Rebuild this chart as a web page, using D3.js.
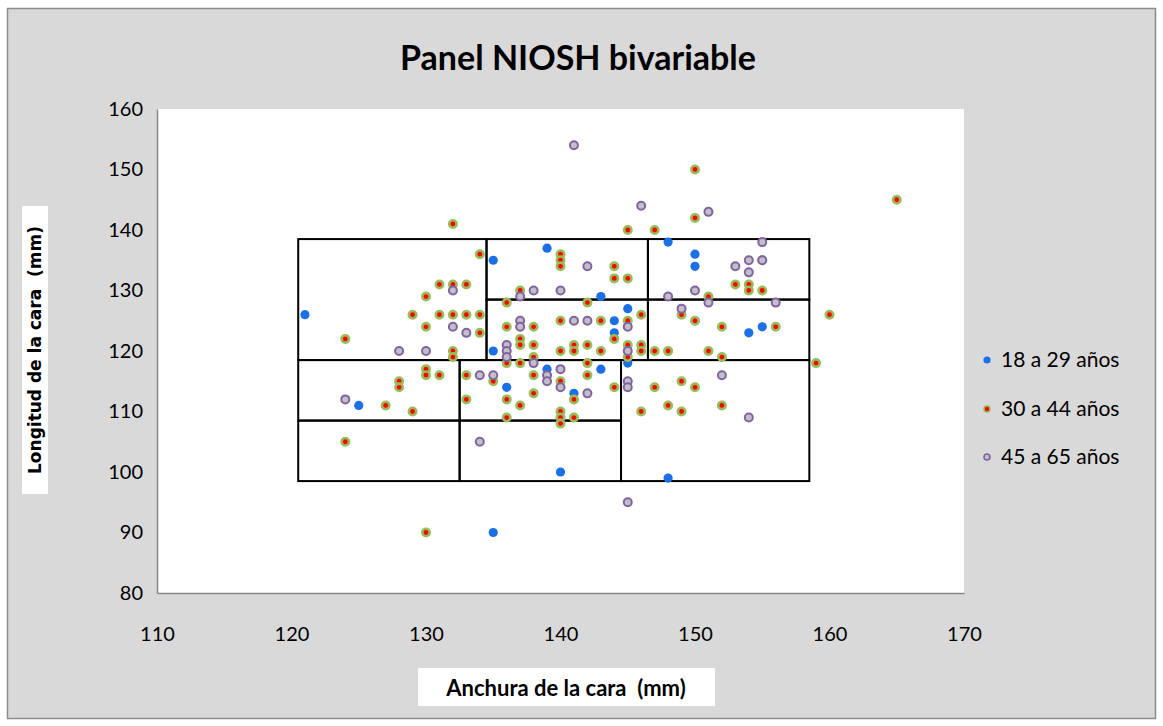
<!DOCTYPE html>
<html>
<head>
<meta charset="utf-8">
<script src="https://cdn.jsdelivr.net/npm/d3@7"></script>
<style>
  html, body { margin: 0; padding: 0; background: #ffffff; }
  svg { display: block; }
</style>
</head>
<body>
<svg id="chart" width="1163" height="726"></svg>
<script>
// Face width (x, mm) and face length (y, mm) per age group
const ageGroups = ["18 a 29 años", "30 a 44 años", "45 a 65 años"];

const grupo18a29 = [
  [121,126],[125,111],[135,135],[135,120],[135,90],[136,114],[139,137],[139,117],
  [140,100],[141,113],[143,129],[143,117],[144,125],[144,123],[145,127],[145,118],
  [148,138],[148,120],[148,99],[150,136],[150,134],[150,125],[154,123],[155,124]
];

const grupo30a44 = [
  [124,122],[124,105],[127,111],[128,115],[128,114],[129,126],[129,110],[130,129],
  [130,124],[130,117],[130,116],[130,90],[131,131],[131,126],[131,116],[132,141],
  [132,131],[132,126],[132,120],[132,119],[133,131],[133,126],[133,116],[133,112],
  [134,136],[134,126],[134,123],[135,115],[136,128],[136,124],[136,118],[136,112],
  [136,109],[137,130],[137,122],[137,121],[137,118],[137,111],[138,124],[138,121],
  [138,119],[138,116],[138,113],[140,136],[140,135],[140,134],[140,125],[140,120],
  [140,115],[140,110],[140,109],[140,108],[141,121],[141,120],[141,112],[141,109],
  [142,128],[142,121],[142,118],[142,116],[143,125],[143,120],[144,134],[144,132],
  [144,122],[144,114],[145,140],[145,132],[145,125],[145,121],[145,119],[146,126],
  [146,121],[146,120],[146,110],[147,140],[147,120],[147,114],[148,120],[148,111],
  [149,126],[149,115],[149,110],[150,150],[150,142],[150,125],[150,114],[151,129],
  [151,120],[152,124],[152,119],[152,111],[153,131],[154,131],[154,130],[155,135],
  [155,130],[156,124],[159,118],[160,126],[165,145]
];

const grupo45a65 = [
  [124,112],[128,120],[130,120],[132,130],[132,124],[133,123],[134,116],[134,105],
  [135,116],[136,121],[136,120],[136,119],[137,129],[137,125],[137,124],[138,130],
  [138,118],[139,116],[139,115],[140,130],[140,117],[140,114],[141,154],[141,125],
  [142,134],[142,125],[142,113],[145,124],[145,120],[145,115],[145,114],[145,95],
  [146,144],[148,129],[149,127],[150,130],[151,143],[151,128],[152,116],[153,134],
  [154,135],[154,133],[154,109],[155,138],[155,135],[156,128]
];

// NIOSH bivariate panel cells: [width min, width max, length min, length max]
const panelCells = [
  [120.5,132.5, 98.5,108.5],
  [132.5,144.5, 98.5,108.5],
  [120.5,132.5,108.5,118.5],
  [132.5,144.5,108.5,118.5],
  [144.5,158.5, 98.5,118.5],
  [120.5,134.5,118.5,138.5],
  [134.5,146.5,118.5,128.5],
  [146.5,158.5,118.5,128.5],
  [134.5,146.5,128.5,138.5],
  [146.5,158.5,128.5,138.5]
];

const xTicks = [110,120,130,140,150,160,170];
const yTicks = [80,90,100,110,120,130,140,150,160];

const svg = d3.select("#chart");
const W = 1163, H = 726;
const plot = { left: 157, top: 109, right: 964, bottom: 593 };

const baseFont = "Lato, 'Open Sans', sans-serif";

// Chart background and frame
svg.append("rect").attr("x", 0).attr("y", 0).attr("width", W).attr("height", H).attr("fill", "#ffffff");
svg.append("rect")
  .attr("x", 7.5).attr("y", 8.5).attr("width", 1148).attr("height", 710)
  .attr("fill", "#d9d9d9").attr("stroke", "#8c8c8c").attr("stroke-width", 1.5);

// Plot area
svg.append("rect")
  .attr("x", plot.left).attr("y", plot.top)
  .attr("width", plot.right - plot.left).attr("height", plot.bottom - plot.top)
  .attr("fill", "#ffffff");

const x = d3.scaleLinear().domain([110, 170]).range([plot.left, plot.right]);
const y = d3.scaleLinear().domain([80, 160]).range([plot.bottom, plot.top]);

// Axes
const xAxis = svg.append("g")
  .attr("transform", `translate(0,${plot.bottom})`)
  .call(d3.axisBottom(x).tickValues(xTicks).tickSize(0).tickPadding(34).tickFormat(d3.format("d")));
const yAxis = svg.append("g")
  .attr("transform", `translate(${plot.left},0)`)
  .call(d3.axisLeft(y).tickValues(yTicks).tickSize(0).tickPadding(14).tickFormat(d3.format("d")));

[xAxis, yAxis].forEach(g => {
  g.select(".domain").attr("stroke", "#868686").attr("stroke-width", 1.5);
  g.selectAll("text").attr("font-family", baseFont).attr("font-size", 20).attr("fill", "#000");
});

// Panel cells
svg.append("g").selectAll("rect")
  .data(panelCells)
  .join("rect")
  .attr("x", d => x(d[0]))
  .attr("y", d => y(d[3]))
  .attr("width", d => x(d[1]) - x(d[0]))
  .attr("height", d => y(d[2]) - y(d[3]))
  .attr("fill", "none")
  .attr("stroke", "#000")
  .attr("stroke-width", 2);

// Marker styles per age group
const styles = [
  { fill: "#1a70e4", stroke: "none", r: 4.6, sw: 0 },
  { fill: "#ff0000", stroke: "#9bbb59", r: 3.7, sw: 2.6 },
  { fill: "#c2bfc6", stroke: "#8064a2", r: 4, sw: 2 }
];
const series = [grupo18a29, grupo30a44, grupo45a65];

series.forEach((data, i) => {
  const s = styles[i];
  svg.append("g").selectAll("circle")
    .data(data)
    .join("circle")
    .attr("cx", d => x(d[0]))
    .attr("cy", d => y(d[1]))
    .attr("r", s.r)
    .attr("fill", s.fill)
    .attr("stroke", s.stroke)
    .attr("stroke-width", s.sw);
});

// Title
svg.append("text")
  .attr("x", 578).attr("y", 70)
  .attr("text-anchor", "middle")
  .attr("font-family", baseFont).attr("font-weight", "bold").attr("font-size", 34)
  .attr("fill", "#000")
  .text("Panel NIOSH bivariable");

// X axis title with white box
svg.append("rect").attr("x", 418).attr("y", 668).attr("width", 297).attr("height", 38).attr("fill", "#fff");
svg.append("text")
  .attr("x", 566).attr("y", 696)
  .attr("text-anchor", "middle")
  .attr("font-family", baseFont).attr("font-weight", "bold").attr("font-size", 22)
  .attr("fill", "#000")
  .style("white-space", "pre")
  .text("Anchura de la cara  (mm)");

// Y axis title with white box
svg.append("rect").attr("x", 22).attr("y", 206).attr("width", 26).attr("height", 288).attr("fill", "#fff");
svg.append("text")
  .attr("transform", "translate(41,350) rotate(-90)")
  .attr("text-anchor", "middle")
  .attr("font-family", "'DejaVu Sans', Verdana, sans-serif").attr("font-weight", "bold").attr("font-size", 17)
  .attr("fill", "#000")
  .style("white-space", "pre")
  .text("Longitud de la cara  (mm)");

// Legend
const legendY = [360, 409, 457];
const legend = svg.append("g");
ageGroups.forEach((name, i) => {
  const s = styles[i];
  legend.append("circle")
    .attr("cx", 987).attr("cy", legendY[i])
    .attr("r", i === 0 ? 3.6 : 3)
    .attr("fill", s.fill).attr("stroke", s.stroke).attr("stroke-width", i === 0 ? 0 : 1.6);
  legend.append("text")
    .attr("x", 1001).attr("y", legendY[i] + 7)
    .attr("font-family", baseFont).attr("font-size", 21).attr("fill", "#000")
    .text(name);
});
</script>
</body>
</html>
